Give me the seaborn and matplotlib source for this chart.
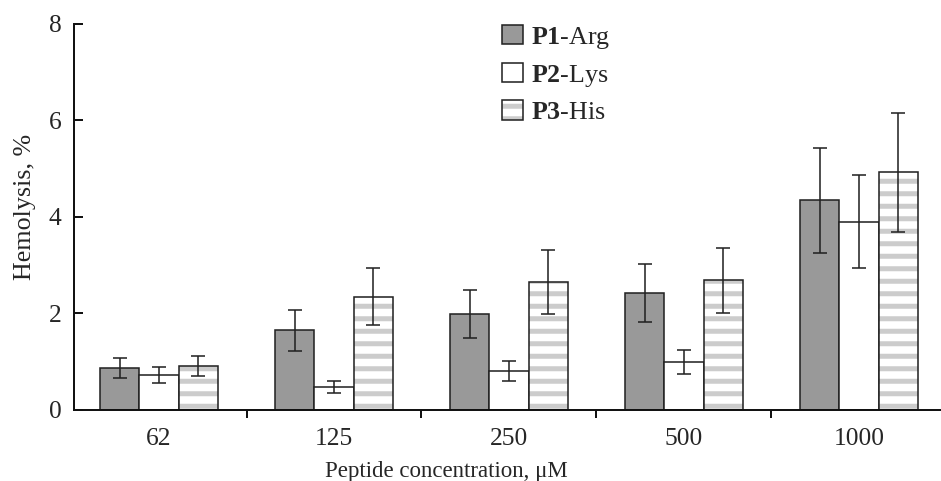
import numpy as np
import pandas as pd
import matplotlib
matplotlib.use("Agg")
import matplotlib as mpl
import matplotlib.pyplot as plt
import seaborn as sns

# ---- data ----
concentrations = ["62", "125", "250", "500", "1000"]
peptides = ["P1-Arg", "P2-Lys", "P3-His"]
p1_arg = [0.86, 1.64, 1.98, 2.41, 4.34]
p1_arg_err = [0.20, 0.42, 0.50, 0.60, 1.09]
p2_lys = [0.71, 0.46, 0.80, 0.98, 3.90]
p2_lys_err = [0.17, 0.125, 0.20, 0.25, 0.97]
p3_his = [0.91, 2.34, 2.65, 2.68, 4.92]
p3_his_err = [0.21, 0.59, 0.67, 0.67, 1.23]
legend_labels = [r"$\mathbf{P1}$-Arg", r"$\mathbf{P2}$-Lys", r"$\mathbf{P3}$-His"]
y_ticks = [0, 2, 4, 6, 8]

values = {"P1-Arg": p1_arg, "P2-Lys": p2_lys, "P3-His": p3_his}
errors = {"P1-Arg": p1_arg_err, "P2-Lys": p2_lys_err, "P3-His": p3_his_err}

df = pd.DataFrame({
    "conc": np.repeat([concentrations], 3, axis=0).ravel(),
    "peptide": np.repeat(peptides, len(concentrations)),
    "value": p1_arg + p2_lys + p3_his,
})

# ---- style ----
sns.set_style("white")
plt.rcParams["font.family"] = ["Liberation Serif", "DejaVu Serif"]
plt.rcParams["mathtext.fontset"] = "custom"
plt.rcParams["mathtext.rm"] = "Liberation Serif"
plt.rcParams["mathtext.bf"] = "Liberation Serif:bold"
plt.rcParams["hatch.linewidth"] = 4.8
plt.rcParams["hatch.color"] = "#cccccc"

DPI = 75
W, H = 941, 481
fig = plt.figure(figsize=(W / DPI, H / DPI), dpi=DPI)
ax_left, ax_right, ax_top, ax_bot = 74, 941, 24, 409.5
ax = fig.add_axes([ax_left / W, 1 - ax_bot / H, (ax_right - ax_left) / W, (ax_bot - ax_top) / H])

palette = {"P1-Arg": "#999999", "P2-Lys": "#ffffff", "P3-His": "#ffffff"}
sns.barplot(data=df, x="conc", y="value", hue="peptide", hue_order=peptides,
            order=concentrations, palette=palette, saturation=1, width=0.674,
            errorbar=None, edgecolor="#222222", linewidth=1.5, legend=False, ax=ax)

bar_containers = list(ax.containers)[:3]
hatch_rgba = mpl.colors.to_rgba("#cccccc")
for cont, pep in zip(bar_containers, peptides):
    xs, ys = [], []
    for patch in cont.patches:
        patch.set_zorder(2)
        if pep == "P3-His":
            patch.set_hatch("-")
            patch._hatch_color = hatch_rgba
        xs.append(patch.get_x() + patch.get_width() / 2)
        ys.append(patch.get_height())
    ax.errorbar(xs, ys, yerr=errors[pep], fmt="none", ecolor="#222222",
                elinewidth=1.5, capsize=6.3, capthick=1.5, zorder=5)

ax.set_ylim(0, 8)
ax.set_xlim(-0.486, 4.469)
ax.set_yticks(y_ticks)
ax.set_yticklabels([str(t) for t in y_ticks])

for side in ["top", "right"]:
    ax.spines[side].set_visible(False)
for side in ["left", "bottom"]:
    ax.spines[side].set_linewidth(1.9)
    ax.spines[side].set_color("#111111")

ax.tick_params(axis="y", direction="in", length=8.5, width=1.9, color="#111111",
               labelsize=24.5, pad=12, left=True)
ax.tick_params(axis="x", which="major", length=0, labelsize=24.5, pad=18)
ax.set_xticks(np.arange(0.5, 4.0, 1.0), minor=True)
ax.tick_params(axis="x", which="minor", direction="out", length=7.7, width=1.9,
               color="#111111", bottom=True)

ax.set_xlabel("Peptide concentration, μM", fontsize=22)
ax.set_ylabel("Hemolysis, %", fontsize=25)
ax.xaxis.set_label_coords((446 - ax_left) / (ax_right - ax_left), (ax_bot - 472) / (ax_bot - ax_top))
ax.xaxis.label.set_va("center")
ax.yaxis.set_label_coords((25 - ax_left) / (ax_right - ax_left), (ax_bot - 207) / (ax_bot - ax_top))
ax.yaxis.label.set_va("center")

leg = ax.legend(handles=bar_containers, labels=legend_labels, loc="upper left",
                bbox_to_anchor=(502 / W, 1 - 25 / H), bbox_transform=fig.transFigure,
                frameon=False, fontsize=25, handlelength=0.8, handleheight=0.75,
                handletextpad=0.3, labelspacing=0.45, borderpad=0, borderaxespad=0)

fig.savefig("out.png", dpi=DPI)
